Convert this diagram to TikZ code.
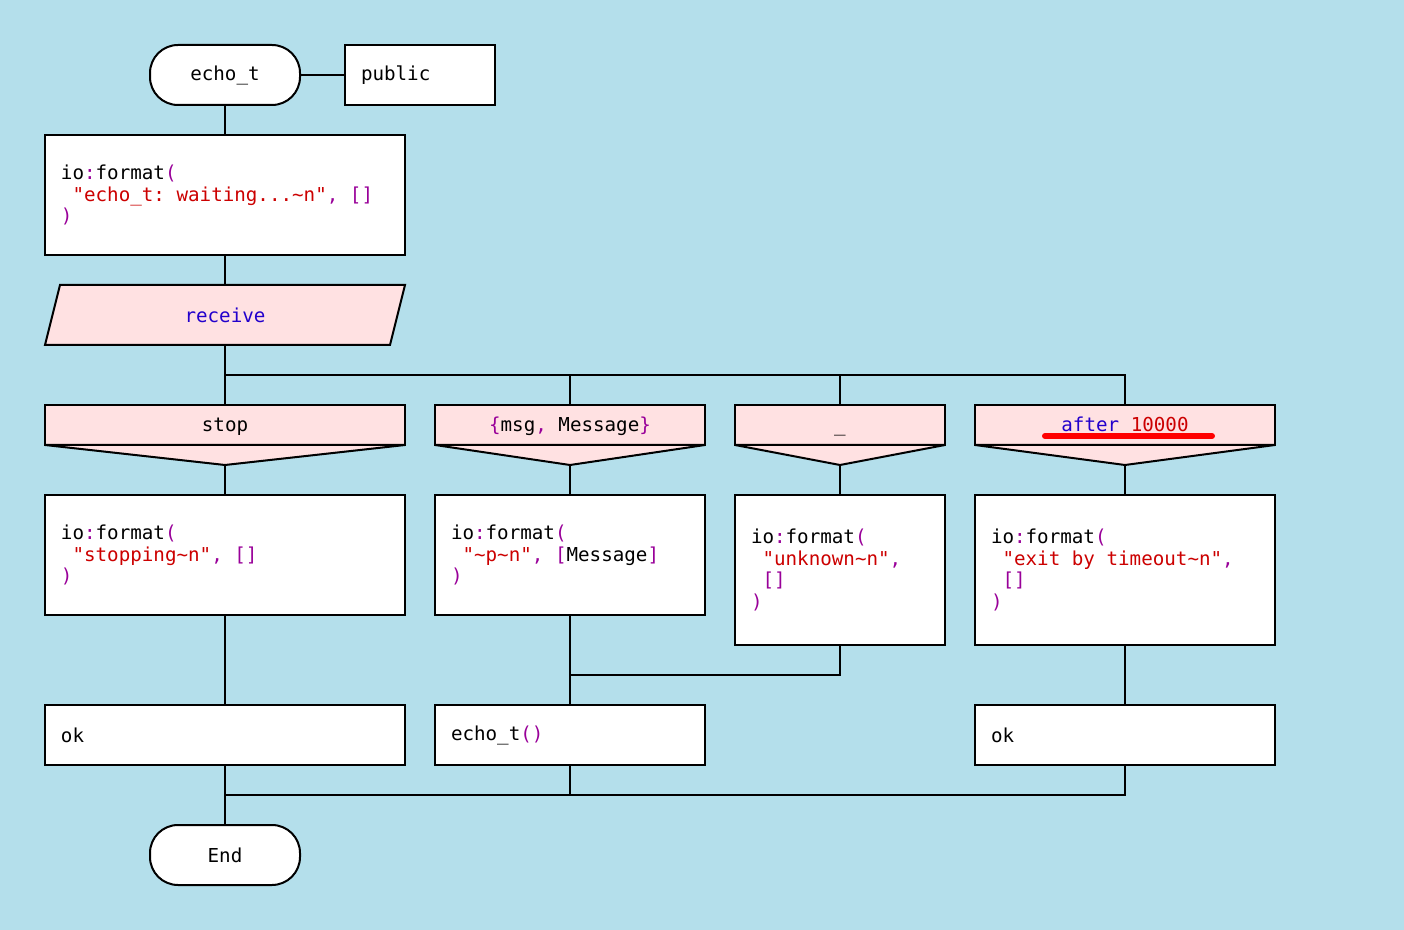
\documentclass[tikz,border=0pt]{standalone}
\usepackage{fontspec}
\setmonofont{DejaVu Sans Mono}
\usepackage{tikz}
\usetikzlibrary{calc}

\definecolor{bgblue}{RGB}{180,223,235}
\definecolor{casepink}{RGB}{255,225,226}
\definecolor{punct}{RGB}{153,0,153}
\definecolor{strred}{RGB}{204,0,0}
\definecolor{kwblue}{RGB}{34,0,204}

\newcommand\pp[1]{\textcolor{punct}{#1}}
\newcommand\st[1]{\textcolor{strred}{#1}}
\newcommand\kw[1]{\textcolor{kwblue}{#1}}
\newcommand\lead{\mbox{}\ }
\newcommand\codefont{\ttfamily\fontsize{9.6}{10.75}\selectfont\frenchspacing}
\newcommand\fixspaces{\spaceskip=\fontdimen2\font\relax\xspaceskip=\spaceskip}

\begin{document}
\begin{tikzpicture}[x=0.5pt,y=-0.5pt,line width=1pt,
    every node/.style={font=\codefont},
    term/.style={draw,fill=white,rounded corners=14pt,minimum width=75pt,minimum height=30pt},
    stmt/.style={draw,fill=white,align=left,inner xsep=8pt,inner ysep=0pt,outer sep=0pt,
        anchor=north west,execute at begin node=\fixspaces},
    casebox/.style={draw,fill=casepink,minimum height=20pt,inner sep=0pt,outer sep=0pt,
        text height=9pt,text depth=2pt,anchor=north west}]
    % Background
    \fill[bgblue] (0,0) rectangle (1404,930);

    % Start
    \node[term] (start) at (225,75) {echo\_t};
    \node[stmt,text width=59pt,minimum height=30pt] (pub) at (345,45) {public};
    \draw (start.east) -- (pub.west);

    % First statement
    \node[stmt,text width=164pt,minimum height=60pt] (fwait) at (45,135)
        {io\pp{:}format\pp{(}\\\lead\st{"echo\_t: waiting...\textasciitilde n"}\pp{, []}\\\pp{)}};
    \draw (start) -- (fwait);

    % Receive
    \node[minimum width=180pt,minimum height=30pt,inner sep=0pt,outer sep=0pt] (recv) at (225,315) {};
    \filldraw[fill=casepink] ($(recv.north west)+(15,0)$) -- (recv.north east)
        -- ($(recv.south east)+(-15,0)$) -- (recv.south west) -- cycle;
    \node at (recv) {\kw{receive}};
    \draw (fwait) -- (recv.north);

    % Cases
    \node[casebox,minimum width=180pt] (cstop) at (45,405) {stop};
    \node[casebox,minimum width=135pt] (cmsg) at (435,405) {\pp{\{}msg\pp{,} Message\pp{\}}};
    \node[casebox,minimum width=105pt] (cany) at (735,405) {\_};
    \node[casebox,minimum width=150pt] (cafter) at (975,405) {\kw{after} \st{10000}};
    \foreach \c in {cstop,cmsg,cany,cafter} {
        \coordinate (t\c) at ([yshift=-10pt]\c.south);
        \filldraw[fill=casepink] (\c.south west) -- (t\c) -- (\c.south east) -- cycle;
    }
    \draw[red,line width=3pt,line cap=round] (1045,436) -- (1212,436);

    \coordinate (split) at (225,375);
    \draw (recv.south) -- (cstop.north);
    \draw (split) -| (cmsg.north);
    \draw (split) -| (cany.north);
    \draw (split) -| (cafter.north);

    % Case bodies
    \node[stmt,text width=164pt,minimum height=60pt] (fstop) at (45,495)
        {io\pp{:}format\pp{(}\\\lead\st{"stopping\textasciitilde n"}\pp{, []}\\\pp{)}};
    \node[stmt,text width=119pt,minimum height=60pt] (fmsg) at (435,495)
        {io\pp{:}format\pp{(}\\\lead\st{"\textasciitilde p\textasciitilde n"}\pp{, [}Message\pp{]}\\\pp{)}};
    \node[stmt,text width=89pt,minimum height=75pt] (funk) at (735,495)
        {io\pp{:}format\pp{(}\\\lead\st{"unknown\textasciitilde n"}\pp{,}\\\lead\pp{[]}\\\pp{)}};
    \node[stmt,text width=134pt,minimum height=75pt] (fafter) at (975,495)
        {io\pp{:}format\pp{(}\\\lead\st{"exit by timeout\textasciitilde n"}\pp{,}\\\lead\pp{[]}\\\pp{)}};
    \draw (tcstop) -- (fstop);
    \draw (tcmsg) -- (fmsg);
    \draw (tcany) -- (funk);
    \draw (tcafter) -- (fafter);

    % Results
    \node[stmt,text width=164pt,minimum height=30pt] (okstop) at (45,705) {ok};
    \node[stmt,text width=119pt,minimum height=30pt] (loop) at (435,705) {echo\_t\pp{()}};
    \node[stmt,text width=134pt,minimum height=30pt] (okafter) at (975,705) {ok};
    \coordinate (join) at (570,675);
    \draw (fstop) -- (okstop);
    \draw (fmsg) -- (loop);
    \draw (funk.south) |- (join);
    \draw (fafter) -- (okafter);

    % End
    \node[term] (stop) at (225,855) {End};
    \coordinate (merge) at (225,795);
    \draw (okstop) -- (stop);
    \draw (loop.south) |- (merge);
    \draw (okafter.south) |- (merge);
\end{tikzpicture}
\end{document}
